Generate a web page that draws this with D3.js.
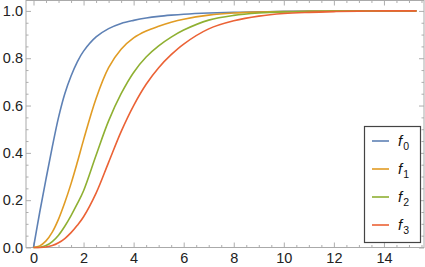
<!DOCTYPE html>
<html>
<head>
<meta charset="utf-8">
<script src="https://cdn.jsdelivr.net/npm/d3@7"></script>
<style>
  body { margin: 0; background: #fff; }
  svg { display: block; font-family: "Liberation Sans", Arial, sans-serif; }
</style>
</head>
<body>
<div id="chart"></div>
<script>
// data
const xs = [0, 0.25, 0.5, 0.75, 1, 1.25, 1.5, 1.75, 2, 2.5, 3, 3.5, 4, 4.5, 5, 5.5, 6, 7, 8, 9, 10, 11, 12, 13, 14, 15.3];
const f0 = [0, .15, .29, .425, .55, .65, .725, .785, .83, .89, .925, .947, .96, .97, .977, .982, .986, .991, .994, .996, .998, .999, .9995, 1, 1, 1];
const f1 = [0, .007, .028, .065, .12, .19, .27, .36, .455, .63, .76, .838, .886, .915, .935, .952, .965, .982, .991, .995, .997, .998, .999, 1, 1, 1];
const f2 = [0, .001, .008, .025, .052, .09, .135, .185, .24, .39, .535, .65, .74, .805, .852, .889, .919, .961, .981, .991, .996, .998, .999, 1, 1, 1];
const f3 = [0, 0, .002, .008, .02, .038, .063, .094, .13, .23, .36, .49, .6, .69, .76, .815, .86, .924, .958, .978, .989, .994, .997, .999, 1, 1];
const seriesNames = ["0", "1", "2", "3"];
const colors = ["#5e81b5", "#e19c24", "#8fb032", "#eb6235"];
const xTicks = [0, 2, 4, 6, 8, 10, 12, 14];
const yTicks = [0, 0.2, 0.4, 0.6, 0.8, 1.0];

const W = 425, H = 267;
const mLeft = 26, mRight = 424, mTop = 0.5, mBottom = 247.5;

const svg = d3.select("#chart").append("svg")
  .attr("width", W).attr("height", H);

const x = d3.scaleLinear().domain([-0.3, 15.6]).range([mLeft, mRight]);
const y = d3.scaleLinear().domain([0, 1.044]).range([mBottom, mTop]);

const xMinor = d3.range(0, 15.6, 0.5).filter(v => v % 2 !== 0);
const yMinor = d3.range(0, 1.04, 0.05).filter(v => Math.abs(v * 5 - Math.round(v * 5)) > 1e-6);

function styleAxis(g) {
  g.select(".domain").remove();
  g.selectAll(".tick line").attr("stroke", "#999").attr("stroke-width", 0.8);
  g.selectAll(".tick text").attr("fill", "#222").style("font-size", "14.5px");
}

// bottom
svg.append("g").attr("transform", `translate(0,${mBottom})`)
  .call(d3.axisBottom(x).tickValues(xTicks).tickSize(-5).tickSizeOuter(0).tickPadding(5).tickFormat(d3.format("d")))
  .call(styleAxis);
svg.append("g").attr("transform", `translate(0,${mBottom})`)
  .call(d3.axisBottom(x).tickValues(xMinor).tickSize(-2.5).tickSizeOuter(0).tickFormat(""))
  .call(styleAxis);
// top
svg.append("g").attr("transform", `translate(0,${mTop})`)
  .call(d3.axisTop(x).tickValues(xTicks).tickSize(-5).tickSizeOuter(0).tickFormat(""))
  .call(styleAxis);
svg.append("g").attr("transform", `translate(0,${mTop})`)
  .call(d3.axisTop(x).tickValues(xMinor).tickSize(-2.5).tickSizeOuter(0).tickFormat(""))
  .call(styleAxis);
// left
svg.append("g").attr("transform", `translate(${mLeft},0)`)
  .call(d3.axisLeft(y).tickValues(yTicks).tickSize(-5).tickSizeOuter(0).tickPadding(3).tickFormat(d3.format(".1f")))
  .call(styleAxis);
svg.append("g").attr("transform", `translate(${mLeft},0)`)
  .call(d3.axisLeft(y).tickValues(yMinor).tickSize(-2.5).tickSizeOuter(0).tickFormat(""))
  .call(styleAxis);
// right
svg.append("g").attr("transform", `translate(${mRight},0)`)
  .call(d3.axisRight(y).tickValues(yTicks).tickSize(-5).tickSizeOuter(0).tickFormat(""))
  .call(styleAxis);
svg.append("g").attr("transform", `translate(${mRight},0)`)
  .call(d3.axisRight(y).tickValues(yMinor).tickSize(-2.5).tickSizeOuter(0).tickFormat(""))
  .call(styleAxis);

// frame
svg.append("rect")
  .attr("x", mLeft).attr("y", mTop)
  .attr("width", mRight - mLeft).attr("height", mBottom - mTop)
  .attr("fill", "none").attr("stroke", "#aaa").attr("stroke-width", 1);

// curves
const line = d3.line()
  .x((d, i) => x(xs[i]))
  .y(d => y(d))
  .curve(d3.curveCatmullRom.alpha(0.5));

[f0, f1, f2, f3].forEach((s, i) => {
  svg.append("path")
    .datum(s)
    .attr("fill", "none")
    .attr("stroke", colors[i])
    .attr("stroke-width", 1.6)
    .attr("d", line);
});

// legend
const lg = svg.append("g");
lg.append("rect")
  .attr("x", 364.5).attr("y", 126.5).attr("width", 56).attr("height", 116)
  .attr("fill", "#fff").attr("stroke", "#444").attr("stroke-width", 1.2);

seriesNames.forEach((n, i) => {
  const yy = 141 + i * 28;
  lg.append("line")
    .attr("x1", 372).attr("x2", 389).attr("y1", yy).attr("y2", yy)
    .attr("stroke", colors[i]).attr("stroke-width", 1.6);
  const t = lg.append("text")
    .attr("x", 398).attr("y", yy + 5)
    .attr("fill", "#111")
    .style("font-size", "15px");
  t.append("tspan").style("font-style", "italic").text("f");
  t.append("tspan").attr("dy", 4).attr("dx", 1).style("font-size", "10.5px").text(n);
});
</script>
</body>
</html>
